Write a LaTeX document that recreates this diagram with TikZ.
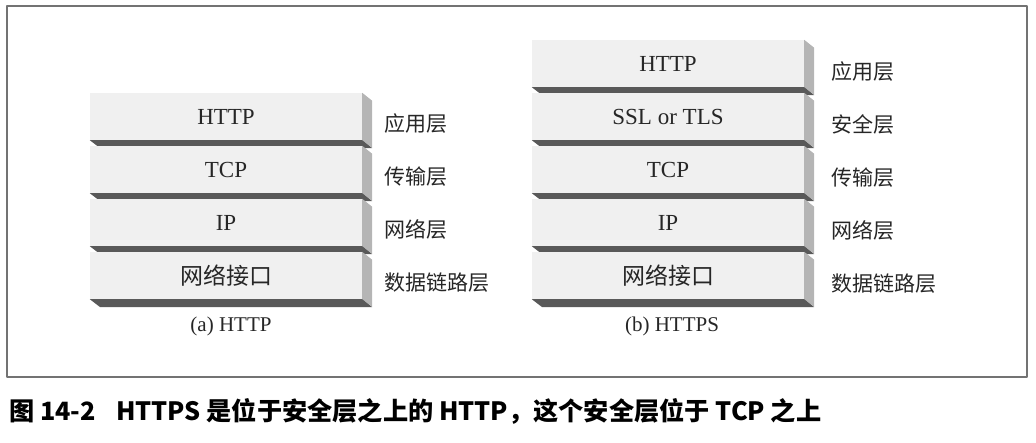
\documentclass[tikz,border=0pt]{standalone}
\usepackage{fontspec}
\setmainfont{Liberation Serif}
\newfontfamily\cjk{Noto Sans CJK SC}
\begin{document}
\begin{tikzpicture}[x=1pt, y=-1pt, line join=round,
  face/.style={fill=gray!12, text=black!85, minimum width=272pt, minimum height=47pt, inner sep=0pt, font=\fontsize{23}{23}\selectfont},
  sideface/.style={fill=gray!58},
  barface/.style={fill=black!65},
  lbl/.style={anchor=west, text=black!85, font=\cjk\fontsize{21}{21}\selectfont},
  sub/.style={text=black!85, font=\fontsize{21}{21}\selectfont}]
  \useasboundingbox (0,0) rectangle (1036,442);
  \draw[black!55, line width=1.3pt] (7,6) rectangle (1027,377);
  \foreach \txt/\lab [count=\i] in {HTTP/应用层, TCP/传输层, IP/网络层, {\cjk 网络接口}/数据链路层}{
    \node[face] (a\i) at (226,{116.5+53*(\i-1)}) {\txt};
    \fill[sideface] (a\i.north east) -- ++(10,8) -- ++(0,47) -- (a\i.south east) -- cycle;
    \fill[barface] (a\i.south west) -- (a\i.south east) -- ++(10,8) -- ++(-272,0) -- cycle;
    \node[lbl] (la\i) at (381,{123.5+53*(\i-1)}) {\lab};
  }
  \foreach \txt/\lab [count=\i] in {HTTP/应用层, SSL or TLS/安全层, TCP/传输层, IP/网络层, {\cjk 网络接口}/数据链路层}{
    \node[face] (b\i) at (668,{63.5+53*(\i-1)}) {\txt};
    \fill[sideface] (b\i.north east) -- ++(10,8) -- ++(0,47) -- (b\i.south east) -- cycle;
    \fill[barface] (b\i.south west) -- (b\i.south east) -- ++(10,8) -- ++(-272,0) -- cycle;
    \node[lbl] (lb\i) at (828,{71.5+53*(\i-1)}) {\lab};
  }
  \node[sub] (capa) at (231,326) {(a) HTTP};
  \node[sub] (capb) at (672,326) {(b) HTTPS};
  \node[anchor=west, inner sep=0pt, font=\cjk\bfseries\fontsize{25.2}{25.2}\selectfont] (title) at (9,411) {图 14-2\hspace{0.8em}HTTPS 是位于安全层之上的 HTTP，这个安全层位于 TCP 之上};
\end{tikzpicture}
\end{document}
